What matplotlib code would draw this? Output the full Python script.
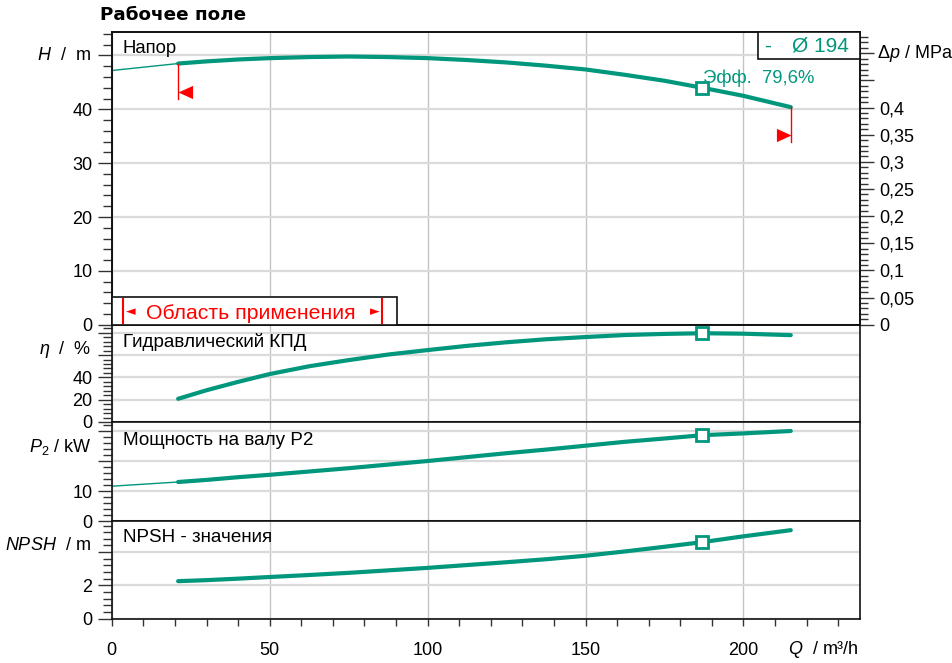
import numpy as np
import matplotlib
matplotlib.use("Agg")
import matplotlib.pyplot as plt
from matplotlib.ticker import MultipleLocator
from matplotlib.patches import Rectangle
from matplotlib.lines import Line2D

plt.rcParams['font.family'] = ['Liberation Sans', 'DejaVu Sans']
plt.rcParams['mathtext.fontset'] = 'custom'
plt.rcParams['mathtext.rm'] = 'Liberation Sans'
plt.rcParams['mathtext.it'] = 'Liberation Sans:italic'

# values (Q in m3/h)
q = [21, 30, 40, 50, 62.5, 75, 87.5, 100, 112.5, 125, 137.5, 150, 162.5, 175, 187, 200, 215]
head = [48.5, 48.9, 49.25, 49.5, 49.7, 49.8, 49.7, 49.5, 49.15, 48.7, 48.1, 47.4,
        46.4, 45.3, 44.0, 42.5, 40.4]
eta = [20.8, 28.5, 36.0, 43.0, 50.0, 55.5, 60.5, 64.5, 68.3, 71.5, 74.2, 76.2,
       78.0, 79.0, 79.6, 79.2, 77.9]
p2 = [13.0, 13.7, 14.6, 15.4, 16.5, 17.6, 18.8, 20.0, 21.3, 22.6, 23.8, 25.1,
      26.4, 27.5, 28.6, 29.2, 30.0]
npsh = [2.25, 2.31, 2.4, 2.5, 2.62, 2.75, 2.9, 3.05, 3.22, 3.39, 3.57, 3.78,
        4.04, 4.32, 4.6, 4.95, 5.32]
q_ext = [0, 21]
head_ext = [47.2, 48.5]
p2_ext = [11.6, 13.0]
q_op = 187
range_low = [41.95, 33.9]     # lower ends of the red limit lines (m)
range_tri = [43.2, 35.3]      # limit triangle heights (m)

green = '#00977D'
W, HP = 953, 663
L, R = 111.8, 860
TS = 13

fig = plt.figure(figsize=(W / 100, HP / 100), dpi=100)


def rect(top, bottom):
    return [L / W, 1 - bottom / HP, (R - L) / W, (bottom - top) / HP]


def fxy(x, y):
    return x / W, 1 - y / HP


ax1 = fig.add_axes(rect(31.7, 324.7))
ax2 = fig.add_axes(rect(324.7, 422))
ax3 = fig.add_axes(rect(422, 521))
ax4 = fig.add_axes(rect(521, 618.5))
axes = [ax1, ax2, ax3, ax4]

xmax = (R - L) / 3.158
iop = q.index(q_op)
for ax in axes:
    ax.set_xlim(0, xmax)
    ax.set_xticks([0, 50, 100, 150, 200])
    ax.xaxis.set_minor_locator(MultipleLocator(10))
    ax.grid(axis='x', which='major', color='#c4c4c4', lw=1)
    ax.grid(axis='y', which='major', color='#dadada', lw=1.6)
    ax.set_axisbelow(True)
    for s in ax.spines.values():
        s.set_linewidth(1.2)
        s.set_color('#111111')
    ax.tick_params(axis='x', which='both', bottom=False, labelbottom=False)
    ax.tick_params(axis='y', which='major', direction='out', length=10, width=1,
                   color='#333333', labelsize=TS, pad=4)
    ax.tick_params(axis='y', which='minor', direction='out', length=6.5, width=1,
                   color='#333333')

mk = dict(marker='s', markevery=[iop], ms=8, mfc='white', mec=green, mew=2)

# head
ax1.set_ylim(0, (324.7 - 31.7) / 5.385)
ax1.set_yticks([0, 10, 20, 30, 40, 50])
ax1.set_yticklabels(['0', '10', '20', '30', '40', ''])
ax1.yaxis.set_minor_locator(MultipleLocator(2))
ax1.plot(q_ext, head_ext, color=green, lw=1)
ax1.plot(q, head, color=green, lw=3, solid_capstyle='round', **mk)
tri_l = [(0, 0), (2.2, -1), (2.2, 1)]
tri_r = [(0, 0), (-2.2, -1), (-2.2, 1)]
ax1.plot([q[0], q[0]], [head[0], range_low[0]], color='red', lw=1)
ax1.plot([q[-1], q[-1]], [head[-1], range_low[1]], color='red', lw=1)
ax1.plot(q[0], range_tri[0], marker=tri_l, ms=21, color='red', mec='none')
ax1.plot(q[-1], range_tri[1], marker=tri_r, ms=21, color='red', mec='none')

axr = ax1.twinx()
axr.set_ylim(0, ax1.get_ylim()[1] / 100.8)
dp_ticks = [0, 0.05, 0.1, 0.15, 0.2, 0.25, 0.3, 0.35, 0.4, 0.45, 0.5]
axr.set_yticks(dp_ticks)
axr.set_yticklabels(['0', '0,05', '0,1', '0,15', '0,2', '0,25', '0,3', '0,35', '0,4', '', ''])
axr.yaxis.set_minor_locator(MultipleLocator(0.01))
axr.tick_params(axis='y', which='major', direction='out', length=10, width=1,
                color='#333333', labelsize=TS, pad=4)
axr.tick_params(axis='y', which='minor', direction='out', length=5.5, width=1,
                color='#333333')
for s in axr.spines.values():
    s.set_linewidth(1.2)
    s.set_color('#111111')

# efficiency
ax2.set_ylim(0, (422 - 324.7) / 1.115)
ax2.set_yticks([0, 20, 40, 60, 80])
ax2.set_yticklabels(['0', '20', '40', '', ''])
ax2.yaxis.set_minor_locator(MultipleLocator(4))
ax2.plot(q, eta, color=green, lw=3, solid_capstyle='round', **mk)

# power
ax3.set_ylim(0, (521 - 422) / 3.0)
ax3.set_yticks([0, 10, 20, 30])
ax3.set_yticklabels(['0', '10', '', ''])
ax3.yaxis.set_minor_locator(MultipleLocator(2))
ax3.plot(q_ext, p2_ext, color=green, lw=1)
ax3.plot(q, p2, color=green, lw=3, solid_capstyle='round', **mk)

# NPSH
ax4.set_ylim(0, (618.5 - 521) / 16.6)
ax4.set_yticks([0, 2, 4])
ax4.set_yticklabels(['0', '2', ''])
ax4.yaxis.set_minor_locator(MultipleLocator(0.4))
ax4.plot(q, npsh, color=green, lw=3, solid_capstyle='round', **mk)
ax4.tick_params(axis='x', which='both', bottom=True, labelbottom=True,
                direction='out', length=5, width=1, color='#333333',
                labelsize=TS, pad=12)
ax4.set_xticklabels(['0', '50', '100', '150', '200'])

# texts
fig.text(*fxy(100, 20), 'Рабочее поле', fontsize=13.2, fontweight='bold', va='baseline',
         family='DejaVu Sans')
fig.text(*fxy(123, 52.7), 'Напор', fontsize=13.3, va='baseline')
fig.text(*fxy(123, 346.7), 'Гидравлический КПД', fontsize=13.6, va='baseline')
fig.text(*fxy(123, 445), 'Мощность на валу P2', fontsize=13.6, va='baseline')
fig.text(*fxy(123, 541.7), 'NPSH - значения', fontsize=13.6, va='baseline')

fig.text(*fxy(91, 56), '$H$  /  m', fontsize=TS, ha='right', va='center')
fig.text(*fxy(91, 350), '$η$  /  %', fontsize=TS, ha='right', va='center')
fig.text(*fxy(91, 447), '$P_2$ / kW', fontsize=TS, ha='right', va='center')
fig.text(*fxy(91, 545), '$NPSH$  / m', fontsize=TS, ha='right', va='center')
fig.text(*fxy(877, 53), r'$\mathit{Δp}$ / MPa', fontsize=TS, ha='left', va='center')
fig.text(*fxy(788, 649), '$Q$  / m³/h', fontsize=TS, ha='left', va='center')

fig.text(*fxy(703, 78), 'Эфф.  79,6%', fontsize=13.3, color=green, va='center')

# diameter legend box
x0, y0 = fxy(758.3, 59)
x1, y1 = fxy(R, 31.7)
fig.add_artist(Rectangle((x0, y0), x1 - x0, y1 - y0, transform=fig.transFigure,
                         facecolor='white', edgecolor='#111111', lw=1.2))
fig.text(*fxy(764, 46.5), '-', fontsize=15, color=green, va='center')
fig.text(*fxy(792, 46.5), 'Ø 194', fontsize=15, color=green, va='center')

# application range box
x0, y0 = fxy(L, 324.7)
x1, y1 = fxy(396.7, 296.7)
fig.add_artist(Rectangle((x0, y0), x1 - x0, y1 - y0, transform=fig.transFigure,
                         facecolor='white', edgecolor='#111111', lw=1.2))
for bx in (123.3, 382.3):
    xa, ya = fxy(bx, 299)
    xb, yb = fxy(bx, 323)
    fig.add_artist(Line2D([xa, xb], [ya, yb], transform=fig.transFigure, color='red', lw=1.5))
fig.text(*fxy(126, 311.5), '◄', fontsize=9, color='red', va='center', family='DejaVu Sans')
fig.text(*fxy(380, 311.5), '►', fontsize=9, color='red', va='center', ha='right', family='DejaVu Sans')
fig.text(*fxy(145.7, 319.3), 'Область применения', fontsize=15.3, color='red', va='baseline')

fig.savefig('out.png', dpi=100)
